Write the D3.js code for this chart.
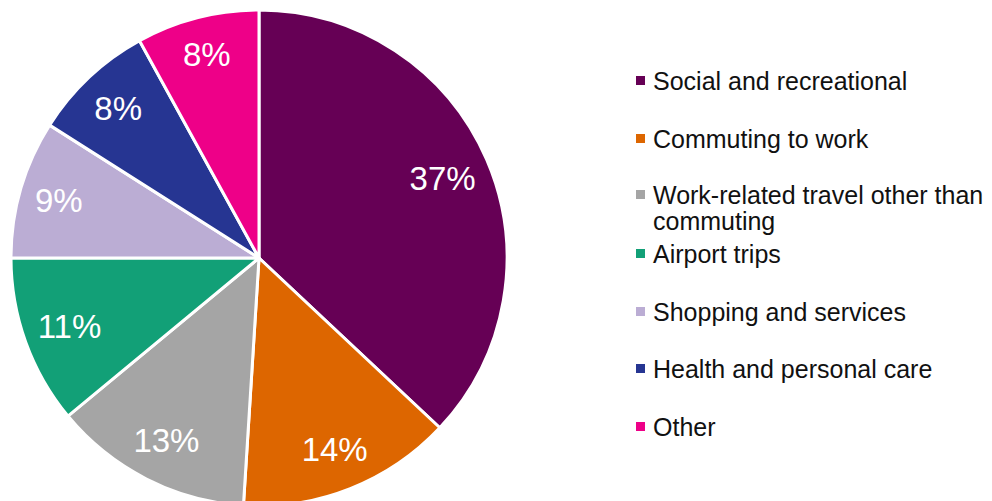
<!DOCTYPE html>
<html>
<head>
<meta charset="utf-8">
<script src="https://cdn.jsdelivr.net/npm/d3@7"></script>
<style>
  html, body { margin: 0; padding: 0; background: #fff; }
  svg text { font-family: "Liberation Sans", Arial, sans-serif; }
</style>
</head>
<body>
<svg id="chart" width="992" height="501"></svg>
<script>
// Trip purposes and their shares of all trips (%)
const categories = [
  "Social and recreational",
  "Commuting to work",
  "Work-related travel other than commuting",
  "Airport trips",
  "Shopping and services",
  "Health and personal care",
  "Other"
];
const shares = [37, 14, 13, 11, 9, 8, 8];
const colors = ["#660055", "#DD6600", "#A5A5A5", "#12A077", "#BBADD4", "#263592", "#EE0088"];
// Legend text, with the long entry broken over two lines
const legendLines = [
  ["Social and recreational"],
  ["Commuting to work"],
  ["Work-related travel other than", "commuting"],
  ["Airport trips"],
  ["Shopping and services"],
  ["Health and personal care"],
  ["Other"]
];

const svg = d3.select("#chart");
const cx = 259, cy = 258, radius = 248;

const color = d3.scaleOrdinal().domain(categories).range(colors);
const data = categories.map((c, i) => ({ category: c, value: shares[i] }));

const pie = d3.pie().value(d => d.value).sort(null);
const arc = d3.arc().innerRadius(0).outerRadius(radius);

const g = svg.append("g").attr("transform", `translate(${cx},${cy})`);
const arcs = pie(data);

g.selectAll("path.slice")
  .data(arcs)
  .join("path")
  .attr("class", "slice")
  .attr("d", arc)
  .attr("fill", d => color(d.data.category))
  .attr("stroke", "#fff")
  .attr("stroke-width", 3)
  .attr("stroke-linejoin", "round");

// Percentage labels: each label box is pushed out along its slice's
// mid-angle until its outer edge sits a fixed distance from the centre.
const labelReach = radius * 0.94;
g.selectAll("text.pct")
  .data(arcs)
  .join("text")
  .attr("class", "pct")
  .attr("text-anchor", "middle")
  .attr("dy", "0.36em")
  .attr("fill", "#fff")
  .attr("font-size", 33)
  .text(d => d3.format(".0f")(d.data.value) + "%")
  .each(function (d) {
    const box = this.getBBox();
    const a = (d.startAngle + d.endAngle) / 2;
    const ux = Math.sin(a), uy = -Math.cos(a);
    const extent = (box.width / 2) * 0.85 * Math.abs(ux) + (box.height / 2) * Math.abs(uy);
    const r = labelReach - extent;
    d3.select(this).attr("transform", `translate(${r * ux},${r * uy})`);
  });

// Legend
const legendX = 636;
const rowY = [81, 139, 195, 254, 312, 369, 427];
const lineGap = 26;
const legend = svg.append("g");
categories.forEach((c, i) => {
  const row = legend.append("g").attr("transform", `translate(${legendX},${rowY[i]})`);
  row.append("rect")
    .attr("x", 0).attr("y", -5)
    .attr("width", 9).attr("height", 9)
    .attr("fill", color(c));
  legendLines[i].forEach((line, j) => {
    row.append("text")
      .attr("x", 17)
      .attr("y", j * lineGap)
      .attr("dy", "0.35em")
      .attr("font-size", 25)
      .attr("fill", "#111")
      .text(line);
  });
});
</script>
</body>
</html>
